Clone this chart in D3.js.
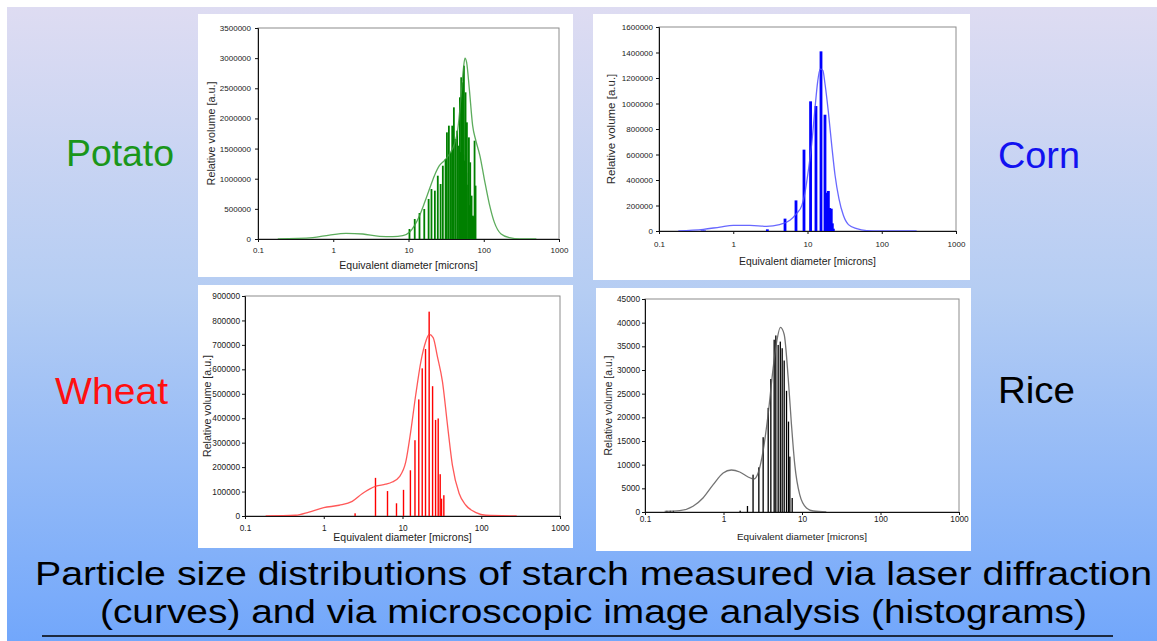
<!DOCTYPE html>
<html><head><meta charset="utf-8">
<script src="https://cdn.jsdelivr.net/npm/d3@7"></script>
<style>
html,body{margin:0;padding:0;background:#fff;}
svg{display:block;font-family:"Liberation Sans",Arial,sans-serif;}
</style></head>
<body><svg id="c" width="1157" height="641"></svg>
<script>
// ---------- DATA ----------
const xTickValues = [0.1, 1, 10, 100, 1000];
const xTickLabels = ["0.1", "1", "10", "100", "1000"];

const potatoYTicks = [0, 500000, 1000000, 1500000, 2000000, 2500000, 3000000, 3500000];
const cornYTicks = [0, 200000, 400000, 600000, 800000, 1000000, 1200000, 1400000, 1600000];
const wheatYTicks = [0, 100000, 200000, 300000, 400000, 500000, 600000, 700000, 800000, 900000];
const riceYTicks = [0, 5000, 10000, 15000, 20000, 25000, 30000, 35000, 40000, 45000];

// laser diffraction curves (diameter in microns, relative volume)
const potatoCurveD = [0.183,0.533,0.89,1.48,2.47,4.12,6.2,8.4,10.3,12.0,14.0,16.4,19.0,22.1,25.7,30.0,35.0,40.9,45.2,50.0,53.6,56.3,59.2,64.3,71.2,78.6,89.0,101.7,118.7,138.4,170,220,300,500];
const potatoCurveV = [0,22000,66000,94000,83000,44000,39000,55000,111000,221000,387000,608000,829000,1050000,1216000,1300000,1410000,1580000,1820000,2380000,2820000,3000000,2930000,2490000,1880000,1630000,1380000,995000,580000,276000,83000,22000,0,0];
const potatoBarD = [10.3,12.1,14.0,16.2,18.5,20.2,22.4,24.5,26.7,28.6,31.1,32.4,34.4,36.6,38.1,40.1,42.2,44.4,46.8,48.2,49.2,50.2,51.2,52.3,53.4,54.5,56.0,57.3,58.6,59.7,62.0,63.5,64.8,66.1,67.5,68.9,70.3,71.8,73.6,75.5,76.6,77.8];
const potatoBarV = [166000,332000,431000,498000,664000,829000,802000,1050000,912000,1216000,1327000,1769000,1880000,1438000,1880000,2184000,1659000,1797000,1548000,2350000,1440000,2682000,1500000,2599000,1400000,2875000,1300000,2433000,1100000,1935000,900000,1686000,560000,1272000,390000,719000,380000,387000,370000,1631000,360000,885000];

const cornCurveD = [0.182,0.396,0.664,1.0,1.68,2.8,4.2,5.8,7.1,8.4,9.2,10.2,11.4,12.6,13.7,14.8,16.1,17.2,19.1,21.2,23.5,26.5,30.4,35.6,46.0,62.6,95,295];
const cornCurveV = [0,13000,31000,44000,44000,37000,50000,84000,136000,201000,293000,463000,685000,959000,1170000,1270000,1260000,1155000,933000,672000,437000,254000,123000,50000,18000,3000,0,0];
const cornBarD = [0.38,0.41,2.88,4.98,7.0,8.97,11.0,13.0,15.2,17.2,18.3,19.1,19.9,20.9,21.6,22.3];
const cornBarV = [4000,4000,13000,97000,240000,638000,1017000,980000,1409000,912000,300000,314000,180000,175000,60000,18000];

const wheatCurveD = [0.183,0.44,0.65,1.0,1.57,2.3,3.1,4.6,6.1,7.4,9.1,11.0,12.7,14.7,17.1,19.7,21.8,24.5,27.8,32.2,37.3,43.0,52.4,63.8,85.8,114,282];
const wheatCurveV = [0,3000,16000,34000,44000,60000,92000,122000,130000,139000,160000,221000,344000,494000,631000,713000,743000,730000,651000,549000,371000,208000,92000,44000,14000,3000,0];
const wheatBarD = [2.50,4.54,6.45,8.39,10.3,12.6,14.4,16.1,17.8,19.6,21.8,24.1,26.3,28.4,30.1,31.3,33.5];
const wheatBarV = [11000,156000,102000,52000,107000,187000,310000,477000,604000,683000,836000,531000,393000,399000,171000,71000,85000];

const riceCurveD = [0.178,0.277,0.409,0.548,0.739,0.99,1.26,1.61,2.06,2.44,2.76,3.19,3.70,4.29,4.73,5.32,5.93,6.67,7.34,8.09,9.35,11.4,13.9,20.4];
const riceCurveV = [141,282,1200,2960,5770,8240,8870,8450,7390,6970,8240,12800,20600,30400,35700,39000,37500,28300,18500,10000,3660,845,211,0];
const riceBarD = [0.19,0.21,0.23,1.63,2.02,2.38,2.82,3.20,3.71,4.01,4.42,4.64,4.97,5.29,5.59,5.93,6.35,6.73,7.0,7.5];
const riceBarV = [250,250,250,282,1270,7890,9440,15800,22000,28100,36400,37300,35300,36000,34600,32000,25600,19100,11700,2960];

const panelNames = ["Potato", "Corn", "Wheat", "Rice"];
const titleLines = ["Particle size distributions of starch measured via laser diffraction",
                    "(curves) and via microscopic image analysis (histograms)"];
const yAxisTitle = "Relative volume [a.u.]";
const xAxisTitle = "Equivalent diameter [microns]";

// ---------- LAYOUT / STYLE ----------
const panels = [
  {box:[198,14,573,277], plot:[258,28,559,239], yTicks:potatoYTicks, cD:potatoCurveD, cV:potatoCurveV, bD:potatoBarD, bV:potatoBarV,
   bar:"#008000", line:"#3f9e3f", bw:1.8, ylEnd:251, xlBase:14, xtBase:30, ytX:211, xtFs:10.5, ytFs:10.8, tickFs:8},
  {box:[593,14,970,280], plot:[659,27,956,231], yTicks:cornYTicks, cD:cornCurveD, cV:cornCurveV, bD:cornBarD, bV:cornBarV,
   bar:"#0000ff", line:"#4d4dff", bw:2.8, ylEnd:653, xlBase:16, xtBase:34, ytX:611, xtFs:10.4, ytFs:11.5, tickFs:8},
  {box:[198,285,573,548], plot:[245,296,560,516], yTicks:wheatYTicks, cD:wheatCurveD, cV:wheatCurveV, bD:wheatBarD, bV:wheatBarV,
   bar:"#ff0000", line:"#ff3b3b", bw:1.4, ylEnd:240, xlBase:15, xtBase:25, ytX:207, xtFs:10.5, ytFs:10.6, tickFs:8.3},
  {box:[596,288,971,551], plot:[645,299,959,512], yTicks:riceYTicks, cD:riceCurveD, cV:riceCurveV, bD:riceBarD, bV:riceBarV,
   bar:"#000000", line:"#5a5a5a", bw:1.3, ylEnd:640, xlBase:10, xtBase:28, ytX:608, xtFs:9.9, ytFs:10.4, tickFs:8.3}
];
const nameStyle = [
  {x:66, w:108, y:166, c:"#1a961a"},
  {x:998, w:82, y:168, c:"#1212f0"},
  {x:55, w:113, y:404, c:"#ff1010"},
  {x:998, w:77, y:403, c:"#000000"}
];

const svg = d3.select("#c");
const defs = svg.append("defs");
const grad = defs.append("linearGradient").attr("id","bg").attr("x1",0).attr("y1",0).attr("x2",0).attr("y2",1);
grad.append("stop").attr("offset","0%").attr("stop-color","#dedcf2");
grad.append("stop").attr("offset","45%").attr("stop-color","#b5cdf3");
grad.append("stop").attr("offset","100%").attr("stop-color","#72a7fb");

svg.append("rect").attr("width",1157).attr("height",641).attr("fill","#fff");
svg.append("rect").attr("x",7).attr("y",7).attr("width",1150).attr("height",634).attr("fill","url(#bg)");

panels.forEach((p, i) => {
  const [bx0,by0,bx1,by1] = p.box;
  const [px0,py0,px1,py1] = p.plot;
  svg.append("rect").attr("x",bx0).attr("y",by0).attr("width",bx1-bx0).attr("height",by1-by0).attr("fill","#fff");
  const x = d3.scaleLog().domain([0.1,1000]).range([px0,px1]);
  const y = d3.scaleLinear().domain([0, p.yTicks[p.yTicks.length-1]]).range([py1,py0]);
  const g = svg.append("g");
  g.append("rect").attr("x",px0).attr("y",py0).attr("width",px1-px0).attr("height",py1-py0)
    .attr("fill","none").attr("stroke","#8c8c8c").attr("stroke-width",1);

  // bars
  g.append("g").selectAll("rect").data(p.bD.map((d,k)=>[d,p.bV[k]])).join("rect")
    .attr("x", d => x(d[0]) - p.bw/2).attr("width", p.bw)
    .attr("y", d => y(d[1])).attr("height", d => y(0) - y(d[1]))
    .attr("fill", p.bar);

  // curve
  const line = d3.line().x(d => x(d[0])).y(d => y(d[1])).curve(d3.curveMonotoneX);
  g.append("path").datum(p.cD.map((d,k)=>[d,p.cV[k]])).attr("d", line)
    .attr("fill","none").attr("stroke", p.line).attr("stroke-width",1.3).attr("stroke-opacity",0.85);

  // axes
  const ya = d3.axisLeft(y).tickValues(p.yTicks).tickFormat(d3.format("d")).tickSize(3).tickPadding(px0 - p.ylEnd - 3);
  const yg = g.append("g").attr("transform",`translate(${px0},0)`).call(ya);
  const xa = d3.axisBottom(x).tickValues(xTickValues).tickFormat((d,k)=>xTickLabels[k]).tickSize(3)
    .tickPadding(p.xlBase - 3 - 0.71*p.tickFs);
  const xg = g.append("g").attr("transform",`translate(0,${py1})`).call(xa);
  [yg,xg].forEach(a => {
    a.select(".domain").attr("stroke","#111").attr("stroke-width",1);
    a.selectAll(".tick line").attr("stroke","#111");
    a.selectAll(".tick text").attr("font-size",p.tickFs).attr("fill","#1a1a1a")
      .attr("font-family",'"Liberation Sans",Arial,sans-serif');
  });

  g.append("text").attr("x",(px0+px1)/2).attr("y",py1+p.xtBase).attr("text-anchor","middle")
    .attr("font-size",p.xtFs).attr("fill","#222").text(xAxisTitle);
  g.append("text").attr("transform",`translate(${p.ytX},${(py0+py1)/2}) rotate(-90)`)
    .attr("text-anchor","middle").attr("dominant-baseline","central")
    .attr("font-size",p.ytFs).attr("fill","#2a2a2a").text(yAxisTitle);

  const ns = nameStyle[i];
  svg.append("text").attr("x",ns.x).attr("y",ns.y).attr("font-size",37).attr("fill",ns.c)
    .attr("textLength",ns.w).attr("lengthAdjust","spacingAndGlyphs").text(panelNames[i]);
});

svg.append("text").attr("x",35).attr("y",585).attr("font-size",34).attr("fill","#000")
  .attr("textLength",1117).attr("lengthAdjust","spacingAndGlyphs").text(titleLines[0]);
svg.append("text").attr("x",100).attr("y",623).attr("font-size",34).attr("fill","#000")
  .attr("textLength",987).attr("lengthAdjust","spacingAndGlyphs").text(titleLines[1]);
svg.append("line").attr("x1",42).attr("x2",1113).attr("y1",636).attr("y2",636).attr("stroke","#000").attr("stroke-width",1.5);
</script></body></html>
